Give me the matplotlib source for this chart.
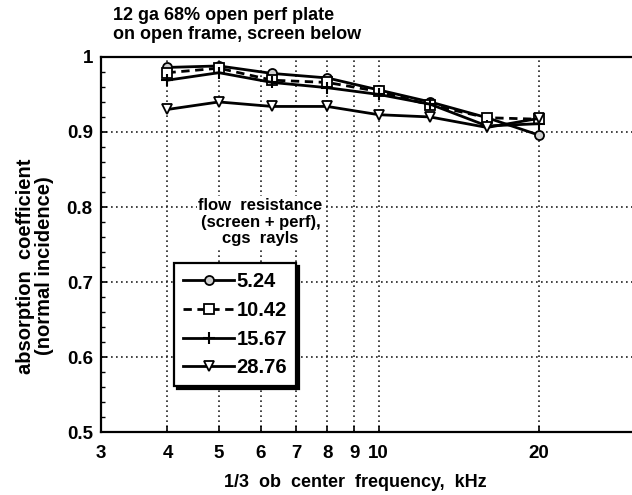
import matplotlib.pyplot as plt
from matplotlib.ticker import FixedLocator, FixedFormatter, MultipleLocator, NullFormatter

plt.rcParams['font.family'] = ['Liberation Sans', 'DejaVu Sans']
plt.rcParams['font.weight'] = 'bold'

# 1/3 octave band centres, kHz
freq = [4, 5, 6.3, 8, 10, 12.5, 16, 20]

# absorption coefficient for each flow resistance (cgs rayls)
r524 = [0.986, 0.988, 0.978, 0.972, 0.956, 0.940, 0.919, 0.896]
r1042 = [0.979, 0.985, 0.969, 0.966, 0.954, 0.936, 0.919, 0.917]
r1567 = [0.969, 0.979, 0.966, 0.959, 0.950, 0.937, 0.908, 0.911]
r2876 = [0.930, 0.940, 0.934, 0.934, 0.923, 0.920, 0.906, 0.918]

labels = ['5.24', '10.42', '15.67', '28.76']

xticks = [3, 4, 5, 6, 7, 8, 9, 10, 20]
xticklabels = ['3', '4', '5', '6', '7', '8', '9', '10', '20']
yticks = [0.5, 0.6, 0.7, 0.8, 0.9, 1.0]
yticklabels = ['0.5', '0.6', '0.7', '0.8', '0.9', '1']

fig = plt.figure(figsize=(6.32, 4.95), dpi=100)
ax = fig.add_axes([0.160, 0.127, 0.840, 0.758])

lw = 2.0
ax.plot(freq, r524, '-', color='k', lw=lw, marker='o', ms=6.5, mfc='#cfcfcf', mec='k', mew=1.3,
        label=labels[0], zorder=4)
ax.plot(freq, r1042, color='k', lw=lw, ls=(0, (3, 2)), marker='s', ms=6.5, mfc='white', mec='k',
        mew=1.3, label=labels[1], zorder=4)
ax.plot(freq, r1567, '-', color='k', lw=lw, marker='+', ms=9, mew=1.5, label=labels[2], zorder=4)
ax.plot(freq, r2876, '-', color='k', lw=lw, marker='v', ms=6.5, mfc='white', mec='k', mew=1.3,
        label=labels[3], zorder=4)

ax.set_xscale('log')
ax.set_xlim(3, 30)
ax.set_ylim(0.5, 1.0)

ax.xaxis.set_major_locator(FixedLocator(xticks))
ax.xaxis.set_major_formatter(FixedFormatter(xticklabels))
ax.xaxis.set_minor_locator(FixedLocator([]))
ax.xaxis.set_minor_formatter(NullFormatter())
ax.yaxis.set_major_locator(FixedLocator(yticks))
ax.yaxis.set_major_formatter(FixedFormatter(yticklabels))
ax.yaxis.set_minor_locator(MultipleLocator(0.02))

ax.tick_params(axis='both', which='major', direction='in', length=4, width=1.2,
               labelsize=13.5, pad=9)
ax.tick_params(axis='y', which='major', pad=6)
ax.tick_params(axis='y', which='minor', direction='in', length=3, width=1)
for t in ax.get_xticklabels() + ax.get_yticklabels():
    t.set_fontweight('bold')

# dotted grid
for xv in [4, 5, 6, 7, 8, 9, 10, 20]:
    ax.axvline(xv, color='#222222', lw=1.2, ls=(0, (1, 2)), zorder=1)
for yv in [0.6, 0.7, 0.8, 0.9]:
    ax.axhline(yv, color='#222222', lw=1.2, ls=(0, (1, 2)), zorder=1)

for side in ['left', 'bottom', 'top']:
    ax.spines[side].set_linewidth(1.6)
ax.spines['right'].set_visible(False)

leg = ax.legend(loc='upper left', bbox_to_anchor=(0.137, 0.45), borderaxespad=0,
                handlelength=2.55, handletextpad=0.1, labelspacing=0.48, borderpad=0.45,
                fancybox=False, edgecolor='k', framealpha=1,
                shadow={'color': 'k', 'alpha': 1},
                prop={'weight': 'bold', 'size': 14.5})
leg.get_frame().set_linewidth(1.6)
leg.set_zorder(6)

ax.text(0.30, 0.56, 'flow  resistance\n(screen + perf),\ncgs  rayls', transform=ax.transAxes,
        ha='center', va='center', fontsize=12, fontweight='bold', linespacing=1.15,
        bbox=dict(facecolor='white', edgecolor='none', pad=1), zorder=5)

fig.text(0.179, 0.985, '12 ga 68% open perf plate\non open frame, screen below',
         ha='left', va='top', fontsize=13, fontweight='bold', linespacing=1.1)

fig.text(0.055, 0.463, 'absorption  coefficient\n(normal incidence)', rotation=90,
         ha='center', va='center', fontsize=14.5, fontweight='bold', linespacing=1.0)

fig.text(0.562, 0.026, '1/3  ob  center  frequency,  kHz', ha='center', va='center',
         fontsize=13, fontweight='bold')

fig.savefig('out.png', dpi=100)
